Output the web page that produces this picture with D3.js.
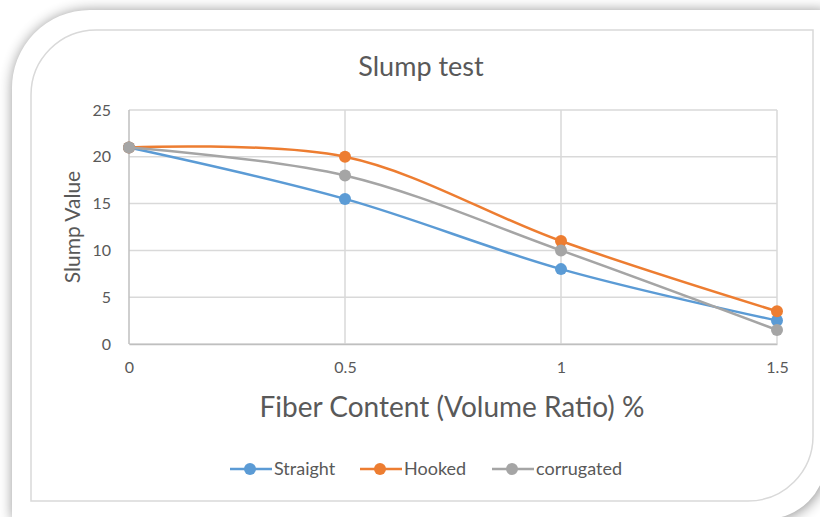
<!DOCTYPE html>
<html>
<head>
<meta charset="utf-8">
<script src="https://cdn.jsdelivr.net/npm/d3@7"></script>
<style>
  body { margin: 0; background: #fff; }
  svg { display: block; }
  text { font-family: Lato, "Open Sans", sans-serif; fill: #595959; }
</style>
</head>
<body>
<div id="chart"></div>
<script>
// data
const categories = [0, 0.5, 1, 1.5];
const straight = [21, 15.5, 8, 2.5];
const hooked = [21, 20, 11, 3.5];
const corrugated = [21, 18, 10, 1.5];
const yTicks = [0, 5, 10, 15, 20, 25];
const seriesNames = ["Straight", "Hooked", "corrugated"];
const seriesColors = ["#5B9BD5", "#ED7D31", "#A5A5A5"];

const series = [straight, hooked, corrugated].map((vals, i) => ({
    name: seriesNames[i],
    color: seriesColors[i],
    points: vals.map((v, j) => ({ x: categories[j], y: v }))
}));

const width = 820, height = 517;
const svg = d3.select("#chart").append("svg")
    .attr("width", width)
    .attr("height", height);

// frame with soft shadow
const defs = svg.append("defs");
defs.append("filter").attr("id", "blur")
    .attr("x", "-10%").attr("y", "-10%").attr("width", "120%").attr("height", "120%")
    .append("feGaussianBlur").attr("stdDeviation", 7);

const outer = "M12,540 L12,90 A78,78 0 0 1 90,10 L826,10 L826,459 A60,60 0 0 1 766,519 L12,519 Z";
svg.append("path").attr("d", outer).attr("fill", "#000").attr("opacity", 0.45)
    .attr("transform", "translate(1,1)").attr("filter", "url(#blur)");
svg.append("path").attr("d", outer).attr("fill", "#fff");

const inner = "M31,501 L31,95 A65,65 0 0 1 96,30 L813,30 L813,436 A65,65 0 0 1 748,501 Z";
svg.append("path").attr("d", inner).attr("fill", "none").attr("stroke", "#d9d9d9").attr("stroke-width", 1.5);

// scales
const x = d3.scaleLinear().domain([0, 1.5]).range([129, 777]);
const y = d3.scaleLinear().domain([0, 25]).range([344, 110]);

// gridlines
svg.append("g")
    .selectAll("line").data(yTicks).join("line")
    .attr("x1", x(0)).attr("x2", x(1.5))
    .attr("y1", d => y(d)).attr("y2", d => y(d))
    .attr("stroke", "#d9d9d9").attr("stroke-width", 1.5);
svg.append("g")
    .selectAll("line").data(categories).join("line")
    .attr("x1", d => x(d)).attr("x2", d => x(d))
    .attr("y1", y(0)).attr("y2", y(25))
    .attr("stroke", d => d === 0 ? "#bfbfbf" : "#d9d9d9").attr("stroke-width", 1.5);

// axes
const yAxis = svg.append("g")
    .attr("transform", `translate(${x(0)},0)`)
    .call(d3.axisLeft(y).tickValues(yTicks).tickSize(0).tickPadding(18));
yAxis.select(".domain").remove();
yAxis.selectAll("text").attr("font-size", 16).attr("font-family", null).style("fill", "#595959");

const xAxis = svg.append("g")
    .attr("transform", `translate(0,${y(0)})`)
    .call(d3.axisBottom(x).tickValues(categories).tickSize(0).tickPadding(18).tickFormat(d3.format("")));
xAxis.select(".domain").attr("stroke", "#bfbfbf").attr("stroke-width", 1.5);
xAxis.selectAll("text").attr("font-size", 16).attr("font-family", null).style("fill", "#595959");

// lines
const line = d3.line()
    .x(d => x(d.x))
    .y(d => y(d.y))
    .curve(d3.curveCatmullRom.alpha(0.5));

const g = svg.append("g");
series.forEach(s => {
    g.append("path")
        .attr("d", line(s.points))
        .attr("fill", "none")
        .attr("stroke", s.color)
        .attr("stroke-width", 2.5);
    g.selectAll(null).data(s.points).join("circle")
        .attr("cx", d => x(d.x))
        .attr("cy", d => y(d.y))
        .attr("r", 6)
        .attr("fill", s.color);
});

// titles
svg.append("text")
    .attr("x", 421).attr("y", 76)
    .attr("text-anchor", "middle")
    .attr("font-size", 27)
    .text("Slump test");

svg.append("text")
    .attr("transform", "translate(80,227) rotate(-90)")
    .attr("text-anchor", "middle")
    .attr("font-size", 21)
    .text("Slump Value");

svg.append("text")
    .attr("x", 452).attr("y", 417)
    .attr("text-anchor", "middle")
    .attr("font-size", 28)
    .text("Fiber Content (Volume Ratio) %");

// legend
const legendX = [230, 360, 492];
const leg = svg.append("g").selectAll("g").data(series).join("g")
    .attr("transform", (d, i) => `translate(${legendX[i]},469)`);
leg.append("line").attr("x1", 0).attr("x2", 42)
    .attr("stroke", d => d.color).attr("stroke-width", 2.5);
leg.append("circle").attr("cx", 20).attr("r", 6).attr("fill", d => d.color);
leg.append("text").attr("x", 44).attr("y", 6)
    .attr("font-size", 18)
    .text(d => d.name);
</script>
</body>
</html>
